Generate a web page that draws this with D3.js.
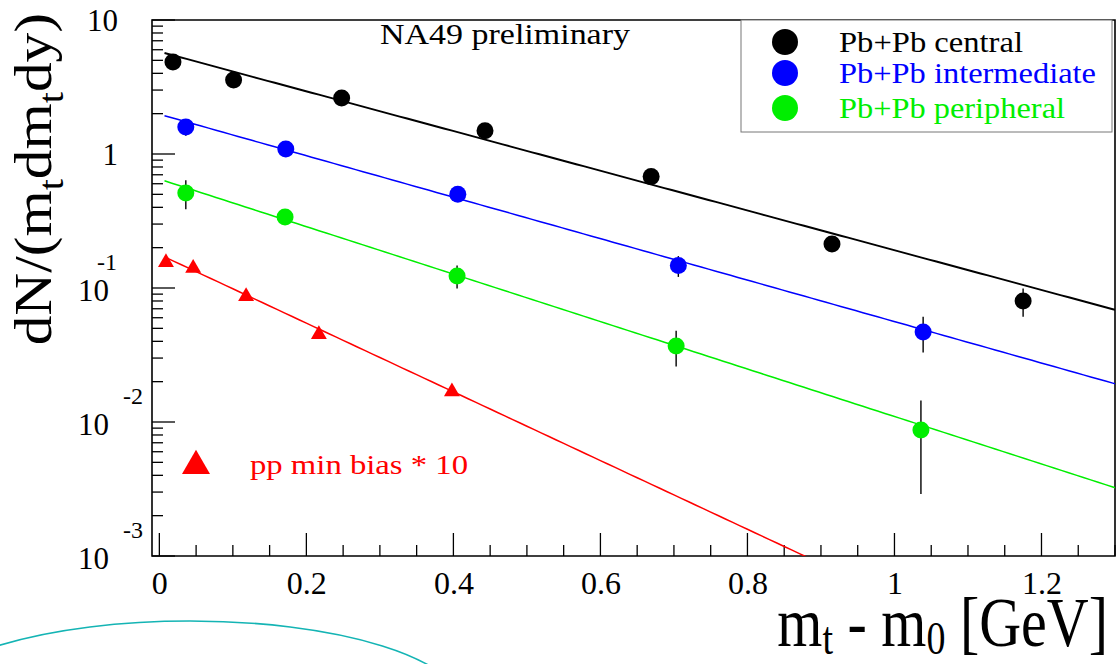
<!DOCTYPE html>
<html>
<head>
<meta charset="utf-8">
<script src="https://cdn.jsdelivr.net/npm/d3@7/dist/d3.min.js"></script>
<style>
  html, body { margin: 0; padding: 0; background: #fff; }
  svg { display: block; }
  svg text { font-family: "Liberation Serif", "DejaVu Serif", serif !important; }
</style>
</head>
<body>
<svg id="chart" width="1120" height="664"></svg>
<script>
// ---- data ----
const seriesNames = ["Pb+Pb central", "Pb+Pb intermediate", "Pb+Pb peripheral", "pp min bias * 10"];
const seriesColors = ["#000000", "#0000ff", "#00ee00", "#ff0000"];

const centralX   = [0.0185, 0.101, 0.248, 0.443, 0.669, 0.915, 1.175];
const centralY   = [4.86, 3.57, 2.62, 1.49, 0.678, 0.213, 0.080];
const centralErr = [0.25, 0.2, 0.12, 0.08, 0.05, 0.02, 0.019];

const interX   = [0.036, 0.172, 0.406, 0.706, 1.039];
const interY   = [1.59, 1.09, 0.50, 0.147, 0.047];
const interErr = [0.22, 0.08, 0.03, 0.026, 0.014];

const periX   = [0.036, 0.171, 0.405, 0.703, 1.036];
const periY   = [0.512, 0.339, 0.123, 0.0369, 0.0087];
const periErr = [0.125, 0.02, 0.024, 0.011, 0.0058];

const ppX   = [0.009, 0.046, 0.118, 0.217, 0.398];
const ppY   = [0.159, 0.1445, 0.0887, 0.0462, 0.0173];
const ppErr = [0.012, 0.005, 0.003, 0.002, 0.001];

// exponential fits A * exp(-x / T), drawn from fitStart to the right edge
const fitA = [5.81, 1.98, 0.649, 0.178];
const fitT = [0.293, 0.2807, 0.2452, 0.1694];
const fitStart = [0.007, 0.007, 0.007, 0.010];

const xTicks = [0, 0.2, 0.4, 0.6, 0.8, 1, 1.2];
const yTicks = [10, 1, 0.1, 0.01, 0.001];

// ---- geometry ----
const svg = d3.select("#chart");
const L = 152, R = 1115, T = 20, B = 556;

const x = d3.scaleLinear().domain([-0.01, 1.3]).range([L, R]);
const y = d3.scaleLog().domain([1e-3, 10]).range([B, T]);

svg.append("defs").append("clipPath").attr("id", "frame")
  .append("rect").attr("x", L).attr("y", T).attr("width", R - L).attr("height", B - T);

// ---- axes (ROOT style: ticks inside, no ticks on top/right) ----
const xAxis = d3.axisBottom(x).tickValues(xTicks).tickSize(0).tickFormat(d3.format("~g"));
const xg = svg.append("g").attr("transform", `translate(0,${B})`).call(xAxis)
  .attr("font-family", null).attr("font-size", null);
xg.select(".domain").remove();
xg.selectAll(".tick text")
  .attr("y", 0).attr("dy", 38)
  .attr("font-size", 32).attr("fill", "#000");

// x ticks drawn upward inside the frame
const xMinor = d3.range(0, 1.3001, 0.05);
svg.append("g").selectAll("line").data(xMinor).join("line")
  .attr("x1", d => x(d)).attr("x2", d => x(d))
  .attr("y1", B)
  .attr("y2", d => Math.abs(d / 0.2 - Math.round(d / 0.2)) < 1e-6 ? B - 23 : B - 11)
  .attr("stroke", "#000").attr("stroke-width", 1.3);

// y ticks drawn rightward inside the frame
const yMinor = [];
[1e-3, 1e-2, 1e-1, 1].forEach(dec => d3.range(1, 10).forEach(k => yMinor.push(dec * k)));
yMinor.push(10);
svg.append("g").selectAll("line").data(yMinor).join("line")
  .attr("x1", L).attr("y1", d => y(d)).attr("y2", d => y(d))
  .attr("x2", d => yTicks.some(t => Math.abs(t - d) / t < 1e-6) ? L + 23 : L + 11)
  .attr("stroke", "#000").attr("stroke-width", 1.3);

// y tick labels: 10, 1, then 10 with exponent
const yLab = svg.append("g").attr("fill", "#000");
yTicks.forEach(t => {
  const e = Math.round(Math.log10(t));
  if (e >= 0) {
    yLab.append("text").attr("x", 118).attr("y", y(t) + 11)
      .attr("text-anchor", "end").attr("font-size", 31).text(t);
  } else {
    yLab.append("text").attr("x", 109).attr("y", y(t) + 13)
      .attr("text-anchor", "end").attr("font-size", 31).text("10");
    yLab.append("text").attr("x", e === -1 ? 117 : 143).attr("y", y(t) - 18)
      .attr("text-anchor", "end").attr("font-size", 24).text(e);
  }
});

// frame
svg.append("path")
  .attr("d", `M${L},${T}H${R}V${B}H${L}Z`)
  .attr("fill", "none").attr("stroke", "#000").attr("stroke-width", 1.6);

// ---- fit lines ----
const plot = svg.append("g").attr("clip-path", "url(#frame)");
const line = d3.line().x(d => x(d[0])).y(d => y(d[1]));
fitA.forEach((A, i) => {
  const xs = d3.range(fitStart[i], 1.31, 0.01);
  plot.append("path")
    .datum(xs.map(v => [v, A * Math.exp(-v / fitT[i])]))
    .attr("d", line)
    .attr("fill", "none")
    .attr("stroke", seriesColors[i])
    .attr("stroke-width", i === 0 ? 1.9 : 1.5);
});

// ---- points ----
const sets = [
  { xs: centralX, ys: centralY, es: centralErr },
  { xs: interX, ys: interY, es: interErr },
  { xs: periX, ys: periY, es: periErr },
  { xs: ppX, ys: ppY, es: ppErr }
];
const tri = d3.symbol().type(d3.symbolTriangle).size(110);

sets.forEach((s, i) => {
  const pts = s.xs.map((v, k) => ({ x: v, y: s.ys[k], e: s.es[k] }));
  const g = plot.append("g");
  g.selectAll("line").data(pts).join("line")
    .attr("x1", d => x(d.x)).attr("x2", d => x(d.x))
    .attr("y1", d => y(d.y + d.e)).attr("y2", d => y(Math.max(d.y - d.e, 1e-4)))
    .attr("stroke", "#000").attr("stroke-width", 1.4);
  if (i < 3) {
    g.selectAll("circle").data(pts).join("circle")
      .attr("cx", d => x(d.x)).attr("cy", d => y(d.y)).attr("r", 8.5)
      .attr("fill", seriesColors[i]);
  } else {
    g.selectAll("path").data(pts).join("path")
      .attr("d", tri)
      .attr("transform", d => `translate(${x(d.x)},${y(d.y) + 1.5})`)
      .attr("fill", seriesColors[i]);
  }
});

// ---- legend ----
const leg = svg.append("g");
leg.append("rect").attr("x", 741).attr("y", T).attr("width", 371).attr("height", 112)
  .attr("fill", "#fff").attr("stroke", "#777").attr("stroke-width", 1);
const legLen = [184, 257, 226];
[42, 73, 108].forEach((cy, i) => {
  leg.append("circle").attr("cx", 785).attr("cy", cy).attr("r", 13).attr("fill", seriesColors[i]);
  leg.append("text").attr("x", 839).attr("y", cy + 10).attr("font-size", 30)
    .attr("textLength", legLen[i]).attr("lengthAdjust", "spacingAndGlyphs")
    .attr("fill", seriesColors[i]).text(seriesNames[i]);
});

// pp legend entry inside the plot
svg.append("path")
  .attr("d", d3.symbol().type(d3.symbolTriangle).size(340))
  .attr("transform", "translate(196,466)")
  .attr("fill", seriesColors[3]);
svg.append("text").attr("x", 250).attr("y", 474).attr("font-size", 28)
  .attr("textLength", 218).attr("lengthAdjust", "spacingAndGlyphs")
  .attr("fill", seriesColors[3]).text(seriesNames[3]);

svg.append("text").attr("x", 380).attr("y", 44).attr("font-size", 29)
  .attr("textLength", 250).attr("lengthAdjust", "spacingAndGlyphs")
  .attr("fill", "#000").text("NA49 preliminary");

// ---- axis titles ----
const xt = svg.append("text").attr("transform", "translate(1108,646) scale(1,1.2)")
  .attr("text-anchor", "end").attr("font-size", 58).attr("fill", "#000");
xt.append("tspan").text("m");
xt.append("tspan").attr("font-size", 38).attr("dy", 7).text("t");
xt.append("tspan").attr("dy", -7).text(" - m");
xt.append("tspan").attr("font-size", 38).attr("dy", 7).text("0");
xt.append("tspan").attr("dy", -7).text(" [GeV]");

const yt = svg.append("text").attr("transform", "translate(51,13) rotate(-90) scale(1.12,1)")
  .attr("text-anchor", "end").attr("font-size", 53).attr("fill", "#000");
yt.append("tspan").text("dN/(m");
yt.append("tspan").attr("font-size", 36).attr("dy", 12).text("t");
yt.append("tspan").attr("dy", -12).text("dm");
yt.append("tspan").attr("font-size", 36).attr("dy", 12).text("t");
yt.append("tspan").attr("dy", -12).text("dy)");

// decorative teal arc at bottom left
svg.append("ellipse").attr("cx", 190).attr("cy", 706).attr("rx", 272).attr("ry", 85)
  .attr("fill", "none").attr("stroke", "#14b4b4").attr("stroke-width", 1.6);
</script>
</body>
</html>
